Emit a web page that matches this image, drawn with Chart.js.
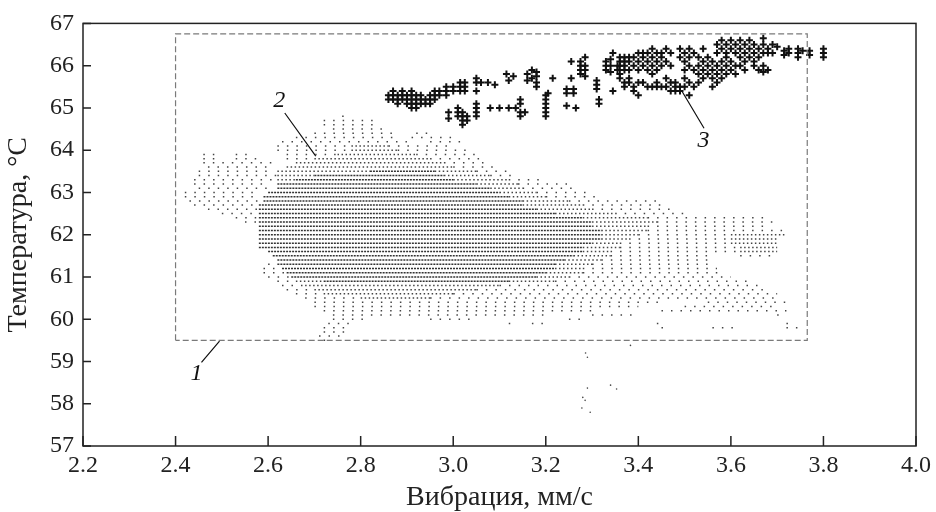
<!DOCTYPE html>
<html>
<head>
<meta charset="utf-8">
<script src="https://cdn.jsdelivr.net/npm/chart.js@4.4.0/dist/chart.umd.min.js"></script>
<style>html,body{margin:0;padding:0;background:#fff}</style>
</head>
<body>
<canvas id="grafico" width="936" height="512"></canvas>
<script>
// ejes
const xTicks = [2.2, 2.4, 2.6, 2.8, 3.0, 3.2, 3.4, 3.6, 3.8, 4.0];
const yTicks = [57, 58, 59, 60, 61, 62, 63, 64, 65, 66, 67];

// zona 2: filas de puntos grises [temperatura, x inicio, x fin]
const denseRows = [
  [63.5, 2.82, 2.96], [63.4, 2.70, 2.98], [63.3, 2.66, 3.00], [63.2, 2.62, 3.05],
  [63.1, 2.62, 3.08], [63.0, 2.60, 3.10], [62.9, 2.59, 3.12], [62.8, 2.59, 3.15],
  [62.7, 2.58, 3.15], [62.6, 2.58, 3.18], [62.5, 2.58, 3.22], [62.4, 2.58, 3.28],
  [62.3, 2.58, 3.30], [62.2, 2.58, 3.30], [62.1, 2.58, 3.32], [62.0, 2.58, 3.32],
  [61.9, 2.58, 3.32], [61.8, 2.58, 3.30], [61.7, 2.58, 3.28], [61.6, 2.60, 3.28],
  [61.5, 2.61, 3.26], [61.4, 2.62, 3.24], [61.3, 2.62, 3.22], [61.2, 2.63, 3.22],
  [61.1, 2.64, 3.20], [61.0, 2.65, 3.18], [60.9, 2.72, 3.12]
];
const midRows = [
  [64.1, 2.78, 2.86], [64.0, 2.78, 2.88], [63.9, 2.75, 2.92], [63.8, 2.70, 2.95],
  [63.7, 2.66, 2.98], [63.6, 2.64, 3.00], [63.5, 2.62, 2.82], [63.5, 2.96, 3.05],
  [63.4, 2.62, 2.70], [63.4, 2.98, 3.08], [63.3, 2.62, 2.66], [63.3, 3.00, 3.12],
  [63.2, 3.05, 3.14], [63.1, 3.08, 3.15], [63.0, 3.10, 3.18], [62.9, 3.12, 3.20],
  [62.8, 3.15, 3.25], [62.7, 3.15, 3.28], [62.6, 3.18, 3.30], [62.5, 3.22, 3.35],
  [62.4, 3.28, 3.42], [62.3, 3.30, 3.44], [62.2, 3.30, 3.42], [62.1, 3.32, 3.42],
  [62.0, 3.32, 3.40], [62.0, 3.60, 3.72], [61.9, 3.32, 3.38], [61.9, 3.60, 3.70],
  [61.8, 3.30, 3.36], [61.8, 3.60, 3.70], [61.7, 3.28, 3.36], [61.7, 3.62, 3.70],
  [61.6, 3.28, 3.34], [61.6, 3.62, 3.70], [61.5, 3.26, 3.34], [61.4, 3.24, 3.32],
  [61.3, 3.22, 3.30], [61.2, 3.22, 3.28], [61.1, 3.20, 3.28], [61.0, 3.18, 3.25],
  [60.9, 2.66, 2.72], [60.9, 3.12, 3.22], [60.8, 2.68, 3.10], [60.7, 2.70, 3.05],
  [60.6, 2.72, 3.00], [60.5, 2.80, 2.95]
];
const sparseRows = [
  [64.8, 2.76, 2.77], [64.7, 2.72, 2.84], [64.6, 2.72, 2.84], [64.5, 2.74, 2.86],
  [64.4, 2.70, 2.88], [64.4, 2.92, 2.96], [64.3, 2.66, 2.88], [64.3, 2.91, 3.00],
  [64.2, 2.63, 2.90], [64.2, 2.95, 3.02], [64.1, 2.62, 2.78], [64.1, 2.86, 3.00],
  [64.0, 2.62, 2.78], [64.0, 2.88, 3.03],
  [63.9, 2.46, 2.50], [63.9, 2.53, 2.56], [63.9, 2.64, 2.75], [63.9, 2.92, 3.05],
  [63.8, 2.46, 2.50], [63.8, 2.53, 2.58], [63.8, 2.64, 2.70], [63.8, 2.95, 3.06],
  [63.7, 2.46, 2.62], [63.7, 2.98, 3.07], [63.6, 2.47, 2.60], [63.6, 3.00, 3.10],
  [63.5, 2.45, 2.60], [63.5, 3.05, 3.12], [63.4, 2.45, 2.62], [63.4, 3.08, 3.14],
  [63.3, 2.44, 2.62], [63.3, 3.12, 3.20], [63.2, 2.44, 2.60], [63.2, 3.14, 3.25],
  [63.1, 2.45, 2.60], [63.1, 3.15, 3.27], [63.0, 2.42, 2.58], [63.0, 3.18, 3.30],
  [62.9, 2.42, 2.58], [62.9, 3.20, 3.32], [62.8, 2.43, 2.58], [62.8, 3.25, 3.44],
  [62.7, 2.44, 2.58], [62.7, 3.28, 3.46], [62.6, 2.47, 2.58], [62.6, 3.30, 3.48],
  [62.5, 2.50, 2.58], [62.5, 3.35, 3.50], [62.4, 2.53, 2.58], [62.4, 3.42, 3.68],
  [62.3, 2.55, 2.58], [62.3, 3.44, 3.70], [62.2, 3.42, 3.68], [62.1, 3.42, 3.72],
  [62.0, 3.40, 3.60], [61.9, 3.38, 3.60], [61.8, 3.36, 3.60], [61.7, 3.36, 3.62],
  [61.6, 3.34, 3.62], [61.5, 3.34, 3.56], [61.5, 3.62, 3.70], [61.4, 3.32, 3.55],
  [61.3, 2.60, 2.62], [61.3, 3.30, 3.55], [61.2, 2.59, 2.63], [61.2, 3.28, 3.57],
  [61.1, 2.59, 2.64], [61.1, 3.28, 3.58], [61.0, 2.60, 2.65], [61.0, 3.25, 3.60],
  [60.9, 2.62, 2.66], [60.9, 3.22, 3.65], [60.8, 2.63, 2.68], [60.8, 3.10, 3.66],
  [60.7, 2.64, 2.70], [60.7, 3.05, 3.68], [60.6, 2.66, 2.72], [60.6, 3.00, 3.70],
  [60.5, 2.68, 2.80], [60.5, 2.95, 3.70], [60.4, 2.70, 3.45], [60.4, 3.55, 3.72],
  [60.3, 2.70, 3.40], [60.3, 3.50, 3.70], [60.2, 2.72, 3.30], [60.2, 3.45, 3.72],
  [60.1, 2.74, 3.20], [60.1, 3.30, 3.40], [60.1, 3.70, 3.72],
  [60.0, 2.74, 2.82], [60.0, 2.95, 3.05], [60.0, 3.25, 3.28],
  [59.9, 2.73, 2.78], [59.9, 3.12, 3.14], [59.9, 3.17, 3.20], [59.9, 3.44, 3.46], [59.9, 3.72, 3.74],
  [59.8, 2.72, 2.78], [59.8, 3.45, 3.46], [59.8, 3.56, 3.62], [59.8, 3.72, 3.76],
  [59.7, 2.72, 2.78], [59.6, 2.71, 2.76], [59.5, 2.72, 2.74]
];
// puntos sueltos por debajo del recuadro
const strayDots = [
  [3.383, 59.38], [3.286, 59.2], [3.29, 59.1], [3.29, 58.37], [3.28, 58.15],
  [3.285, 58.08], [3.278, 57.9], [3.296, 57.8], [3.34, 58.44], [3.353, 58.35]
];

// zona 3: cruces [x, [temperaturas]]
const cluster3 = [
  [2.86, [65.2, 65.3]], [2.87, [65.2, 65.3, 65.4]], [2.88, [65.1, 65.2, 65.3]],
  [2.89, [65.2, 65.3, 65.4]], [2.90, [65.1, 65.2, 65.3]], [2.91, [65.0, 65.1, 65.2, 65.3, 65.4]],
  [2.92, [65.0, 65.1, 65.2, 65.3]], [2.93, [65.1, 65.2, 65.3]], [2.94, [65.1, 65.2]],
  [2.95, [65.1, 65.2, 65.3]], [2.96, [65.2, 65.3, 65.4]], [2.97, [65.3, 65.4]],
  [2.985, [65.3, 65.4, 65.5]], [3.0, [65.4, 65.5]], [3.015, [65.4, 65.5, 65.6]],
  [3.025, [65.4, 65.5, 65.6]], [2.99, [64.75, 64.9]], [3.01, [64.8, 64.9, 65.0]],
  [3.02, [64.6, 64.7, 64.8, 64.9]], [3.03, [64.7, 64.8]], [3.05, [64.8, 64.9, 65.0, 65.1, 65.4, 65.6, 65.7]],
  [3.06, [65.6]], [3.075, [65.6]], [3.08, [65.0]], [3.09, [65.55]], [3.10, [65.0]],
  [3.115, [65.8]], [3.12, [65.0, 65.65]], [3.13, [65.75]], [3.135, [65.0]],
  [3.145, [64.8, 64.9, 65.1, 65.2]], [3.155, [64.9]], [3.16, [65.65, 65.8]], [3.17, [65.7, 65.9]],
  [3.18, [65.5, 65.6, 65.75, 65.85]], [3.2, [64.8, 64.9, 65.0, 65.1, 65.2, 65.3]], [3.205, [65.35]],
  [3.215, [65.7]], [3.245, [65.05, 65.35, 65.45]], [3.255, [65.7, 66.1]], [3.26, [65.35, 65.45]],
  [3.265, [65.0]], [3.275, [65.8, 65.9, 66.0, 66.1]], [3.285, [65.75, 65.9, 66.0, 66.2]],
  [3.31, [65.45, 65.55, 65.65]], [3.315, [65.1, 65.2]], [3.33, [65.9, 66.0, 66.1]],
  [3.34, [65.85, 66.0, 66.15]], [3.345, [65.4, 66.3]], [3.355, [65.9, 66.0]],
  [3.36, [65.7, 65.8, 66.0, 66.1, 66.2]], [3.37, [65.5, 65.6, 65.9, 66.0, 66.1, 66.2]],
  [3.38, [65.6, 65.7, 65.9, 66.1, 66.2]], [3.39, [65.4, 65.5, 66.0, 66.2]],
  [3.40, [65.3, 65.6, 65.9, 66.1, 66.3]], [3.41, [65.6, 66.0, 66.2, 66.3]],
  [3.42, [65.5, 65.9, 66.1, 66.3]], [3.43, [65.5, 65.8, 66.0, 66.2, 66.4]],
  [3.44, [65.5, 65.6, 65.9, 66.1, 66.3]], [3.45, [65.5, 66.0, 66.2, 66.3]],
  [3.46, [65.5, 65.7, 66.1, 66.4]], [3.47, [65.4, 65.6, 66.0, 66.3]], [3.48, [65.4, 65.5, 65.6]],
  [3.49, [65.4, 65.5, 66.2, 66.4]], [3.50, [65.5, 65.7, 65.9, 66.1, 66.3]],
  [3.51, [65.3, 65.6, 66.0, 66.2, 66.4]], [3.52, [65.5, 65.9, 66.3]], [3.53, [65.6, 65.8, 66.0, 66.2]],
  [3.54, [65.7, 65.9, 66.1, 66.4]], [3.55, [65.8, 66.0, 66.2]], [3.56, [65.5, 65.7, 65.9, 66.1]],
  [3.57, [65.6, 65.8, 66.0, 66.3, 66.5]], [3.58, [65.7, 65.9, 66.1, 66.4, 66.6]],
  [3.59, [65.8, 66.0, 66.2, 66.3, 66.5]], [3.60, [65.9, 66.1, 66.4, 66.6]],
  [3.61, [65.8, 66.0, 66.3, 66.5]], [3.62, [66.0, 66.2, 66.4, 66.6]], [3.63, [65.9, 66.1, 66.3, 66.5]],
  [3.64, [66.2, 66.4, 66.6]], [3.65, [66.0, 66.1, 66.3, 66.5]], [3.66, [65.9, 66.2, 66.4]],
  [3.67, [65.85, 66.0, 66.3, 66.5, 66.65]], [3.68, [65.9, 66.3, 66.4]], [3.69, [66.3, 66.5]],
  [3.70, [66.45]], [3.715, [66.25, 66.35]], [3.725, [66.3, 66.4]], [3.745, [66.2, 66.3, 66.4]],
  [3.755, [66.35]], [3.77, [66.25, 66.35]], [3.80, [66.2, 66.3, 66.4]]
];

// recuadro 1 (x, y de las esquinas)
const boxX = [2.4, 3.765];
const boxY = [59.5, 66.75];

// etiquetas 1, 2, 3 y sus líneas
const calloutText = ['1', '2', '3'];
const calloutX = [2.445, 2.624, 3.541];
const calloutY = [58.70, 65.16, 64.22];
const leaderFrom = [[2.456, 58.98], [2.636, 64.88], [3.494, 65.40]];
const leaderTo = [[2.495, 59.48], [2.703, 63.86], [3.542, 64.52]];

function filas(rows) {
    var out = [];
    rows.forEach(function (r) {
        out.push({x: r[1], y: r[0]}, {x: r[2], y: r[0]}, {x: r[2], y: null});
    });
    return out;
}

var cruces = [];
cluster3.forEach(function (c) {
    c[1].forEach(function (t) { cruces.push({x: c[0], y: t}); });
});

var recuadro = [
    {x: boxX[0], y: boxY[0]}, {x: boxX[0], y: boxY[1]}, {x: boxX[1], y: boxY[1]},
    {x: boxX[1], y: boxY[0]}, {x: boxX[0], y: boxY[0]}
];

var lineas = [];
leaderFrom.forEach(function (p, i) {
    lineas.push({x: p[0], y: p[1]}, {x: leaderTo[i][0], y: leaderTo[i][1]}, {x: p[0], y: null});
});

const fuente = '"Liberation Serif", "Times New Roman", serif';

const marco = {
    id: 'marco',
    afterDraw: function (chart) {
        var ctx = chart.ctx, a = chart.chartArea, sx = chart.scales.x, sy = chart.scales.y;
        ctx.save();
        ctx.strokeStyle = '#222';
        ctx.lineWidth = 1.5;
        ctx.strokeRect(a.left, a.top, a.right - a.left, a.bottom - a.top);
        ctx.beginPath();
        xTicks.forEach(function (v) {
            var px = sx.getPixelForValue(v);
            ctx.moveTo(px, a.bottom); ctx.lineTo(px, a.bottom - 10);
        });
        yTicks.forEach(function (v) {
            var py = sy.getPixelForValue(v);
            ctx.moveTo(a.left, py); ctx.lineTo(a.left + 8, py);
        });
        ctx.stroke();
        ctx.fillStyle = '#111';
        ctx.font = 'italic 24px ' + fuente;
        ctx.textAlign = 'center';
        ctx.textBaseline = 'middle';
        calloutText.forEach(function (t, i) {
            ctx.fillText(t, sx.getPixelForValue(calloutX[i]), sy.getPixelForValue(calloutY[i]));
        });
        ctx.restore();
    }
};

function capa(rows, dash, color) {
    return {
        type: 'line', data: filas(rows), showLine: true, spanGaps: false,
        borderColor: color, borderWidth: 1.5, borderDash: dash, pointRadius: 0, fill: false
    };
}

var ctx = document.getElementById('grafico').getContext('2d');
new Chart(ctx, {
    type: 'scatter',
    data: {
        datasets: [
            {
                type: 'line', data: recuadro, showLine: true, borderColor: '#7a7a7a',
                borderWidth: 1.2, borderDash: [6, 3], pointRadius: 0, fill: false
            },
            capa(sparseRows, [1.5, 8], '#444'),
            capa(midRows, [1.5, 2.5], '#444'),
            capa(denseRows, [2, 1], '#333'),
            {
                data: strayDots.map(function (p) { return {x: p[0], y: p[1]}; }),
                pointRadius: 0.8, pointBackgroundColor: '#444', pointBorderWidth: 0
            },
            {
                data: cruces, pointStyle: 'cross', pointRadius: 3.5,
                pointBorderColor: '#111', pointBorderWidth: 2
            },
            {
                type: 'line', data: lineas, showLine: true, spanGaps: false,
                borderColor: '#111', borderWidth: 1.2, pointRadius: 0, fill: false
            }
        ]
    },
    options: {
        responsive: false,
        animation: false,
        devicePixelRatio: 1,
        layout: {padding: {left: 0, right: 16, top: 22, bottom: 0}},
        plugins: {legend: {display: false}, tooltip: {enabled: false}},
        scales: {
            x: {
                type: 'linear', min: 2.2, max: 4.0,
                afterBuildTicks: function (s) { s.ticks = xTicks.map(function (v) { return {value: v}; }); },
                afterFit: function (s) { s.height = 66; },
                grid: {display: false, drawTicks: false},
                border: {display: false},
                ticks: {
                    padding: 5, maxRotation: 0, autoSkip: false, color: '#222',
                    font: {family: fuente, size: 24},
                    callback: function (v) { return Number(v).toFixed(1); }
                },
                title: {
                    display: true, text: 'Вибрация, мм/с', color: '#222',
                    font: {family: fuente, size: 28, lineHeight: 1}, padding: {top: 0, bottom: 0}
                }
            },
            y: {
                type: 'linear', min: 57, max: 67,
                afterBuildTicks: function (s) { s.ticks = yTicks.map(function (v) { return {value: v}; }); },
                afterFit: function (s) { s.width = 83; },
                grid: {display: false, drawTicks: false},
                border: {display: false},
                ticks: {
                    padding: 9, color: '#222', font: {family: fuente, size: 24},
                    callback: function (v) { return String(v); }
                },
                title: {
                    display: true, text: 'Температура, °C', color: '#222',
                    font: {family: fuente, size: 28, lineHeight: 1}, padding: {top: 5, bottom: 0}
                }
            }
        }
    },
    plugins: [marco]
});
</script>
</body>
</html>
